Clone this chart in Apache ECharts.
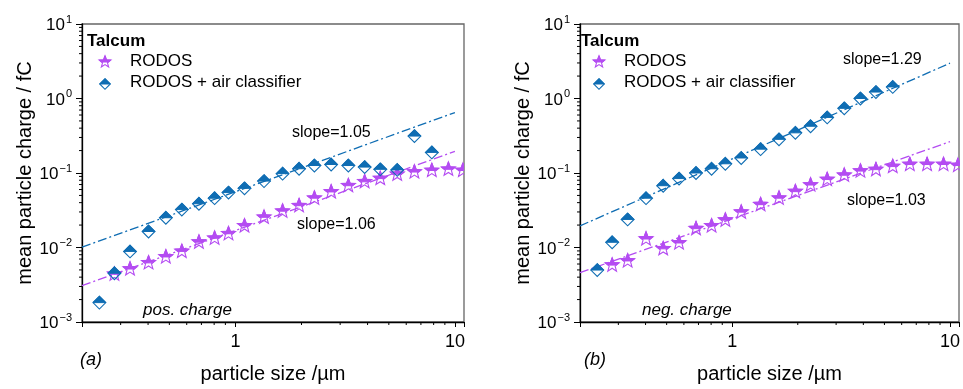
<!DOCTYPE html>
<html>
<head>
<meta charset="utf-8">
<script src="https://cdn.jsdelivr.net/npm/echarts@6/dist/echarts.min.js"></script>
<style>
  html, body { margin: 0; padding: 0; background: #fff; }
  #chart { width: 963px; height: 389px; }
</style>
</head>
<body>
<div id="chart"></div>
<script>
// particle size classes (µm), shared by all series
const sizes = [0.24, 0.281, 0.331, 0.402, 0.482, 0.57, 0.682, 0.804, 0.93, 1.10, 1.35, 1.64, 1.95, 2.29, 2.73, 3.27, 3.88, 4.57, 5.46, 6.54, 7.85, 9.34, 10.87];

// (a) positive charge
const posRodos = [0.00437, 0.00514, 0.00622, 0.00747, 0.00886, 0.0118, 0.0133, 0.0153, 0.0195, 0.0254, 0.0307, 0.0364, 0.0459, 0.0557, 0.0675, 0.0762, 0.0842, 0.096, 0.103, 0.108, 0.112, 0.108];
const posClassifier = [0.00182, 0.00451, 0.00886, 0.0164, 0.0251, 0.0323, 0.0387, 0.0459, 0.0546, 0.0622, 0.0778, 0.098, 0.114, 0.126, 0.130, 0.126, 0.120, 0.112, 0.110, 0.313, 0.189];
const posRodosFit = [[0.2, 0.00307], [10, 0.195]];
const posClassifierFit = [[0.2, 0.0101], [10, 0.648]];

// (b) negative charge
const negRodos = [0.0058, 0.0066, 0.013, 0.0096, 0.0115, 0.0179, 0.0195, 0.0233, 0.0298, 0.0376, 0.0459, 0.0562, 0.0689, 0.0817, 0.0933, 0.106, 0.111, 0.122, 0.130, 0.130, 0.130, 0.126];
const negClassifier = [0.00498, 0.01175, 0.0238, 0.0459, 0.0675, 0.0842, 0.100, 0.114, 0.133, 0.159, 0.209, 0.283, 0.346, 0.424, 0.557, 0.738, 1.0, 1.22, 1.43];
const negRodosFit = [[0.2, 0.00459], [10, 0.264]];
const negClassifierFit = [[0.2, 0.0195], [10, 2.98]];

const slopeLabels = ['slope=1.05', 'slope=1.06', 'slope=1.29', 'slope=1.03'];

// axes
const xMajor = [1, 10];
const xMinor = [0.3, 0.4, 0.5, 0.6, 0.7, 0.8, 0.9, 2, 3, 4, 5, 6, 7, 8, 9];
const yMajor = [0.001, 0.01, 0.1, 1, 10];
const yMinor = [];
[0.001, 0.01, 0.1, 1].forEach(d => { for (let k = 2; k <= 9; k++) yMinor.push(+(d * k).toPrecision(3)); });

const PURPLE = '#b44cf2';
const BLUE = '#0f6db3';
const FONT = 'Liberation Sans, Arial, sans-serif';

const chart = echarts.init(document.getElementById('chart'));

function starPts(cx, cy, R) {
  const r = R * 0.42, pts = [];
  for (let i = 0; i < 10; i++) {
    const a = (-90 + i * 36) * Math.PI / 180;
    const rad = i % 2 ? r : R;
    pts.push([cx + rad * Math.cos(a), cy + rad * Math.sin(a)]);
  }
  return pts;
}
function diamondPts(cx, cy, R) {
  return [[cx, cy - R], [cx + R, cy], [cx, cy + R], [cx - R, cy]];
}
// keep part of polygon above yc (screen coords)
function clipTop(pts, yc) {
  const out = [];
  for (let i = 0; i < pts.length; i++) {
    const a = pts[i], b = pts[(i + 1) % pts.length];
    const ain = a[1] <= yc, bin = b[1] <= yc;
    if (ain) out.push(a);
    if (ain !== bin) {
      const t = (yc - a[1]) / (b[1] - a[1]);
      out.push([a[0] + t * (b[0] - a[0]), yc]);
    }
  }
  return out;
}
function halfShape(kind, cx, cy, R, color) {
  const pts = kind === 'star' ? starPts(cx, cy, R) : diamondPts(cx, cy, R);
  return [
    { type: 'polygon', shape: { points: clipTop(pts, cy) }, style: { fill: color, stroke: color, lineWidth: 1 } },
    { type: 'polygon', shape: { points: pts }, style: { fill: 'none', stroke: color, lineWidth: 1.1 } }
  ];
}

function markerSeries(idx, kind, xs, ys, color) {
  return {
    type: 'custom', xAxisIndex: idx, yAxisIndex: idx, clip: true, z: 5,
    data: ys.map((v, i) => [xs[i], v]),
    renderItem: (params, api) => {
      const p = api.coord([api.value(0), api.value(1)]);
      const R = kind === 'star' ? 7.4 : 6.4;
      return { type: 'group', children: halfShape(kind, p[0], p[1], R, color) };
    }
  };
}
function fitSeries(idx, pts, color) {
  return {
    type: 'line', xAxisIndex: idx, yAxisIndex: idx, data: pts, symbol: 'none', z: 3,
    lineStyle: { color: color, width: 1.3, type: [9, 3, 2, 3] }
  };
}
function minorTicks(idx, axis) {
  const vals = axis === 'x' ? xMinor : yMinor;
  return {
    type: 'custom', xAxisIndex: idx, yAxisIndex: idx, clip: false, silent: true,
    data: vals.map(v => [v]),
    renderItem: (params, api) => {
      const v = api.value(0);
      const p = axis === 'x' ? api.coord([v, 0.001]) : api.coord([0.2, v]);
      const shape = axis === 'x'
        ? { x1: p[0], y1: p[1], x2: p[0], y2: p[1] + 3 }
        : { x1: p[0] - 3, y1: p[1], x2: p[0], y2: p[1] };
      return { type: 'line', shape: shape, style: { stroke: '#000', lineWidth: 1 } };
    }
  };
}

const lefts = [82, 580];
const grids = lefts.map(l => ({
  left: l, top: 24, width: 382, height: 304, show: true,
  borderColor: '#666', borderWidth: 1.3, backgroundColor: 'transparent'
}));

const xAxes = lefts.map((l, i) => ({
  type: 'log', logBase: 10, gridIndex: i, min: 0.2, max: 11,
  name: 'particle size /µm', nameLocation: 'middle', nameGap: 42,
  nameTextStyle: { fontFamily: FONT, fontSize: 20, color: '#000' },
  axisLine: { lineStyle: { color: '#000', width: 1.3 } },
  axisTick: { inside: false, length: 5, lineStyle: { color: '#000' } },
  axisLabel: {
    margin: 11, fontFamily: FONT, fontSize: 18, color: '#000',
    formatter: v => xMajor.some(t => Math.abs(t - v) / t < 1e-6) ? String(v) : ''
  },
  splitLine: { show: false }
}));

const yAxes = lefts.map((l, i) => ({
  type: 'log', logBase: 10, gridIndex: i, min: 0.001, max: 10,
  name: 'mean particle charge / fC', nameLocation: 'middle', nameGap: 47,
  nameTextStyle: { fontFamily: FONT, fontSize: 20, color: '#000' },
  axisLine: { lineStyle: { color: '#000', width: 1.3 } },
  axisTick: { inside: false, length: 6, lineStyle: { color: '#000' } },
  axisLabel: {
    margin: 10, fontFamily: FONT, color: '#000',
    formatter: v => {
      const e = Math.round(Math.log10(v));
      return '{b|10}{s|' + String(e).replace('-', '\u2212') + '}';
    },
    rich: {
      b: { fontFamily: FONT, fontSize: 17, color: '#000', lineHeight: 20, verticalAlign: 'bottom' },
      s: { fontFamily: FONT, fontSize: 11, color: '#000', lineHeight: 20, verticalAlign: 'top', padding: [0, 0, 8, 1] }
    }
  },
  splitLine: { show: false }
}));

function txt(x, y, s, extra) {
  return { type: 'text', x: x, y: y, style: Object.assign({ text: s, fontFamily: FONT, fontSize: 17, fill: '#000' }, extra || {}) };
}
function legendIcon(kind, cx, cy, color) {
  return { type: 'group', children: halfShape(kind, cx, cy, kind === 'star' ? 6.2 : 5.3, color) };
}

const graphic = [];
lefts.forEach((l, i) => {
  const ox = l - 82 - (i ? 4 : 0);
  graphic.push(txt(87 + ox, 33, 'Talcum', { fontWeight: 'bold' }));
  graphic.push(legendIcon('star', 105 + ox, 62, PURPLE));
  graphic.push(txt(130 + ox, 53, 'RODOS'));
  graphic.push(legendIcon('diamond', 105 + ox, 84, BLUE));
  graphic.push(txt(130 + ox, 74, 'RODOS + air classifier'));
  graphic.push(txt(i ? 642 : 143, 302, i ? 'neg. charge' : 'pos. charge', { fontStyle: 'italic' }));
  graphic.push(txt(i ? 584 : 80, 351, i ? '(b)' : '(a)', { fontStyle: 'italic', fontSize: 18 }));
});
graphic.push(txt(292, 125, slopeLabels[0], { fontSize: 16 }));
graphic.push(txt(297, 217, slopeLabels[1], { fontSize: 16 }));
graphic.push(txt(843, 52, slopeLabels[2], { fontSize: 16 }));
graphic.push(txt(847, 193, slopeLabels[3], { fontSize: 16 }));

chart.setOption({
  animation: false,
  backgroundColor: '#fff',
  grid: grids,
  xAxis: xAxes,
  yAxis: yAxes,
  graphic: graphic,
  series: [
    fitSeries(0, posClassifierFit, BLUE),
    fitSeries(0, posRodosFit, PURPLE),
    markerSeries(0, 'star', sizes.slice(1), posRodos, PURPLE),
    markerSeries(0, 'diamond', sizes, posClassifier, BLUE),
    fitSeries(1, negClassifierFit, BLUE),
    fitSeries(1, negRodosFit, PURPLE),
    markerSeries(1, 'star', sizes.slice(1), negRodos, PURPLE),
    markerSeries(1, 'diamond', sizes, negClassifier, BLUE),
    minorTicks(0, 'x'), minorTicks(0, 'y'),
    minorTicks(1, 'x'), minorTicks(1, 'y')
  ]
});
window.addEventListener('resize', () => chart.resize());
</script>
</body>
</html>
